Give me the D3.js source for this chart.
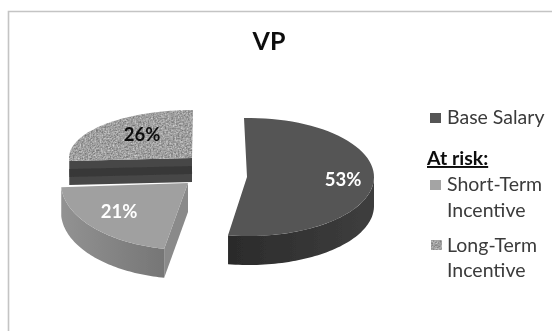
<!DOCTYPE html>
<html><head><meta charset="utf-8">
<script src="https://cdn.jsdelivr.net/npm/d3@7"></script>
<style>html,body{margin:0;padding:0;background:#fff}svg{display:block}text{font-family:Lato,"Open Sans",sans-serif}</style>
</head><body><div id="c"></div>
<script>
const title = "VP";
const categories = ["Base Salary", "Short-Term Incentive", "Long-Term Incentive"];
const values = [53, 21, 26];
const legendHeading = "At risk:";

// layout of each exploded slice (separate from the data)
const W = 552, H = 331;
const geom = [
  {cx:249, cy:177, ax:247, ay:177, off0:-0.04, off1:-0.02, rx:125, ry:59, depth:29, top:"#545454", wallA:"#2b2b2b", wallB:"#3e3e3e", cut:"#333"},
  {cx:188, cy:183, ax:188, ay:183, off0:0, off1:0, rx:127, ry:67, depth:29, top:"#a0a0a0", wallA:"#929292", wallB:"#767676", cut:"#8a8a8a"},
  {cx:193, cy:158, ax:192, ay:158, off0:0, off1:0, rx:124, ry:48, depth:24, top:"url(#speck)", wallA:"#444", wallB:"#444", cut:"#474747"}
];

const svg = d3.select("#c").append("svg").attr("width",W).attr("height",H);
const defs = svg.append("defs");
defs.append("filter").attr("id","soft").attr("x","-5%").attr("y","-5%").attr("width","110%").attr("height","110%")
  .append("feGaussianBlur").attr("stdDeviation",0.6);

const sp = defs.append("filter").attr("id","noise").attr("color-interpolation-filters","sRGB").attr("x",0).attr("y",0).attr("width","100%").attr("height","100%");
sp.append("feTurbulence").attr("type","fractalNoise").attr("baseFrequency",0.6).attr("numOctaves",2).attr("seed",4).attr("result","n");
sp.append("feColorMatrix").attr("type","matrix").attr("values","0.55 0 0 0 0.35  0.55 0 0 0 0.35  0.55 0 0 0 0.35  0 0 0 0 1");
const pat = defs.append("pattern").attr("id","speck").attr("patternUnits","userSpaceOnUse").attr("width",150).attr("height",80);
pat.append("rect").attr("width",150).attr("height",80).attr("fill","#a0a0a0").attr("filter","url(#noise)");

const wallGrad = (id,a,b) => {
  const g = defs.append("linearGradient").attr("id",id);
  g.append("stop").attr("offset","0%").attr("stop-color",a);
  g.append("stop").attr("offset","100%").attr("stop-color",b);
};

svg.append("path").attr("d",`M8.5,${H} V11.5 H${W}`).attr("fill","none").attr("stroke","#c4c4c4").attr("stroke-width",1.6);

const pie = d3.pie().sort(null).value(d=>d)(values);
const line = d3.line();
const pt = (g,a,dy=0) => [g.cx + g.rx*Math.sin(a), g.cy - g.ry*Math.cos(a) + dy];
const arcPts = (g,a0,a1,dy=0) => d3.range(0,61).map(i=>pt(g,a0+(a1-a0)*i/60,dy));

const chart = svg.append("g").attr("filter","url(#soft)");
// draw back slices first
[2,0,1].forEach(i=>{
  const g = geom[i], s = pie[i], gr = chart.append("g");
  const id = "wall"+i;
  wallGrad(id,g.wallA,g.wallB);
  const a0 = s.startAngle+g.off0, a1 = s.endAngle+g.off1;
  const C=[g.ax,g.ay];
  if(i===2){ // flat cut face running from the left rim to the apex
    const L = pt(g,a0);
    gr.append("path").attr("d",line([L,C,[C[0],C[1]+g.depth],[L[0],L[1]+g.depth]])+"Z").attr("fill",g.cut);
    gr.append("path").attr("d",line([[L[0],L[1]+g.depth*0.5],[C[0],C[1]+g.depth*0.5]])).attr("stroke","#333").attr("stroke-width",8).attr("opacity",.7);
  }
  if(i===1){ // cut face on the right
    const R = pt(g,a0);
    gr.append("path").attr("d",line([C,R,[R[0],R[1]+g.depth],[C[0],C[1]+g.depth]])+"Z").attr("fill",g.cut);
  }
  if(i!==2){ // outer wall: visible front part of rim
    const wa0 = i===0 ? Math.PI/2 : a0, wa1 = i===0 ? a1 : Math.min(a1,1.5*Math.PI);
    const top = arcPts(g,wa0,wa1), bot = arcPts(g,wa0,wa1,g.depth).reverse();
    gr.append("path").attr("d",line(top.concat(bot))+"Z").attr("fill",`url(#${id})`);
  }
  const face = [C].concat(arcPts(g,a0,a1));
  gr.append("path").attr("d",line(face)+"Z").attr("fill",g.top);
});

// labels
const lab = svg.append("g").attr("filter","url(#soft)").attr("font-weight",700).attr("font-size",18.5).attr("text-anchor","middle");
const labelPos = [[343,186],[119,218],[142,141]];
const labelFill = ["#fff","#fff","#111"];
values.forEach((v,i)=>lab.append("text").attr("x",labelPos[i][0]).attr("y",labelPos[i][1]).attr("fill",labelFill[i]).text(v+"%"));

const txt = svg.append("g").attr("filter","url(#soft)");
txt.append("text").attr("x",269).attr("y",50).attr("text-anchor","middle").attr("font-size",25).attr("font-weight",700).attr("fill","#111").text(title);

// legend
const swatches = [[430,113,"#555"],[430,180,"#a4a4a4"],[431,240,"url(#speck)"]];
swatches.forEach(d=>txt.append("rect").attr("x",d[0]).attr("y",d[1]).attr("width",11).attr("height",10).attr("fill",d[2]));
const legendLines = [
  [447,124,categories[0]],
  [447,191,categories[1].split(" ")[0]],[447,217,categories[1].split(" ")[1]],
  [447,252,categories[2].split(" ")[0]],[447,277,categories[2].split(" ")[1]]
];
legendLines.forEach(d=>txt.append("text").attr("x",d[0]).attr("y",d[1]).attr("font-size",19.5).attr("fill","#3a3a3a").text(d[2]));
txt.append("text").attr("x",427).attr("y",165).attr("font-size",19.5).attr("font-weight",700).attr("text-decoration","underline").attr("fill","#111").text(legendHeading);
</script></body></html>
